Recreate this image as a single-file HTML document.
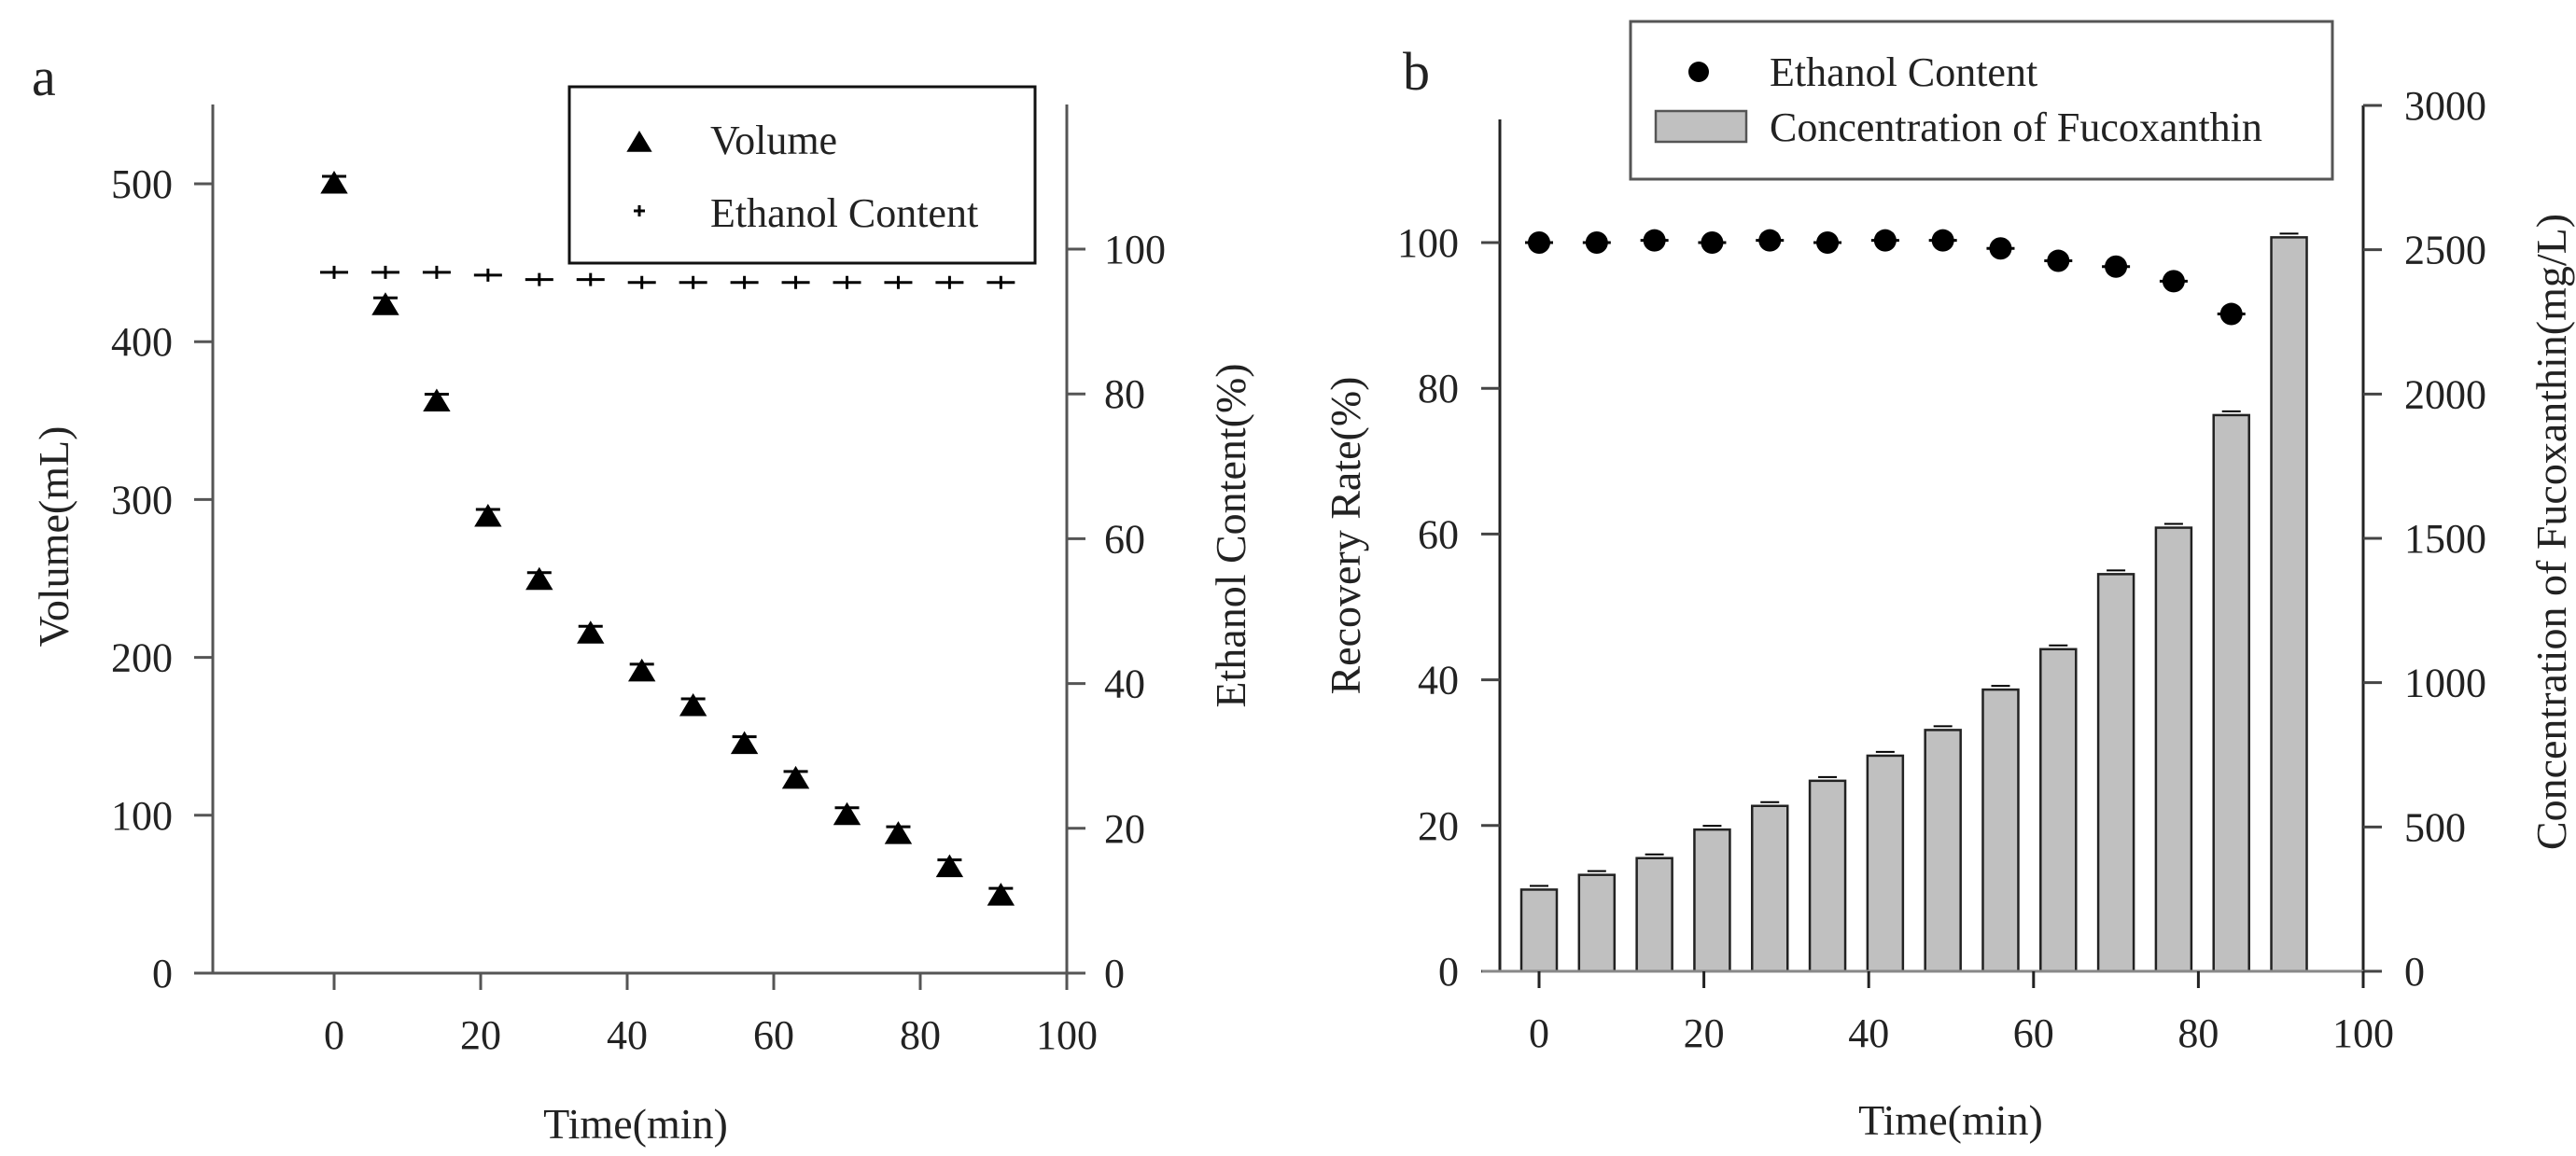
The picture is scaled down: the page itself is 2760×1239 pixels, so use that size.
<!DOCTYPE html>
<html><head><meta charset="utf-8"><style>
html,body{margin:0;padding:0;background:#fff;}
svg text{font-family:"Liberation Serif",serif;fill:#222;}
</style></head><body>
<svg id="fig" width="2760" height="1234" viewBox="0 0 2760 1234" xmlns="http://www.w3.org/2000/svg">
<g id="ga"></g>
<g id="gb"></g>
</svg>
<script>
const timesA = [0,7,14,21,28,35,42,49,56,63,70,77,84,91];
const volumeA = [500,423,362,289,249,215,191,169,145,123,100,88,67,49];
const ethanolA = [96.8,96.8,96.8,96.4,95.8,95.8,95.4,95.4,95.4,95.4,95.4,95.4,95.4,95.4];
const xTicks = [0,20,40,60,80,100];
const volTicks = [0,100,200,300,400,500];
const ethTicksA = [0,20,40,60,80,100];

const timesBars = [0,7,14,21,28,35,42,49,56,63,70,77,84,91];
const concB = [283,334,392,491,573,660,747,836,976,1116,1376,1537,1927,2543];
const timesDots = [0,7,14,21,28,35,42,49,56,63,70,77,84];
const recoveryB = [100,100,100.3,100,100.3,100,100.3,100.3,99.2,97.5,96.7,94.7,90.2];
const recTicks = [0,20,40,60,80,100];
const concTicks = [0,500,1000,1500,2000,2500,3000];

const NS='http://www.w3.org/2000/svg';
function mk(parent,tag,attrs,text){const e=document.createElementNS(NS,tag);for(const k in attrs)e.setAttribute(k,attrs[k]);if(text!==undefined)e.textContent=text;parent.appendChild(e);return e;}

// ---- Chart a ----
const ga=document.getElementById('ga');
const axA={x0:358,x1:1143,yb:1043};
const xA=t=>axA.x0+(t/100)*(axA.x1-axA.x0);
const yVol=v=>axA.yb-v*(1043-197)/500;
const yEthA=v=>axA.yb-v*(1043-267)/100;
let e;
e=mk(ga,'line',{x1:228,y1:112,x2:228,y2:1043,stroke:'#555','stroke-width':3});


e=mk(ga,'line',{x1:1143,y1:112,x2:1143,y2:1043,stroke:'#555','stroke-width':3});


e=mk(ga,'line',{x1:208,y1:1043,x2:1143,y2:1043,stroke:'#555','stroke-width':3});


volTicks.forEach(v=>{
  mk(ga,'line',{x1:208,y1:yVol(v),x2:228,y2:yVol(v),stroke:'#555','stroke-width':3});
  e=mk(ga,'text',{x:185,y:yVol(v)+15,'font-size':44,'text-anchor':'end'},String(v));
  
  
});
ethTicksA.forEach(v=>{
  mk(ga,'line',{x1:1143,y1:yEthA(v),x2:1163,y2:yEthA(v),stroke:'#555','stroke-width':3});
  e=mk(ga,'text',{x:1183,y:yEthA(v)+15,'font-size':44},String(v));
  
  
});
xTicks.forEach(v=>{
  mk(ga,'line',{x1:xA(v),y1:1043,x2:xA(v),y2:1061,stroke:'#555','stroke-width':3});
  e=mk(ga,'text',{x:xA(v),y:1124,'font-size':44,'text-anchor':'middle'},String(v));
  
  
});
e=mk(ga,'text',{x:681,y:1220,'font-size':46,'text-anchor':'middle'},'Time(min)');


e=mk(ga,'text',{x:0,y:0,'font-size':46,'text-anchor':'middle',transform:'translate(73,575) rotate(-90)'},'Volume(mL)');


e=mk(ga,'text',{x:0,y:0,'font-size':46,'text-anchor':'middle',transform:'translate(1334,574) rotate(-90)'},'Ethanol Content(%)');


e=mk(ga,'text',{x:34,y:102,'font-size':58},'a');


function tri(g,cx,cy,s){return mk(g,'polygon',{points:`${cx},${cy-s} ${cx-s*1.05},${cy+s*0.75} ${cx+s*1.05},${cy+s*0.75}`,fill:'#000'});}
timesA.forEach((t,i)=>{
  const cx=xA(t),cy=yVol(volumeA[i]);
  mk(ga,'line',{x1:cx-13,y1:cy-8,x2:cx+13,y2:cy-8,stroke:'#000','stroke-width':3});
  e=tri(ga,cx,cy,14);
  
  
});
timesA.forEach((t,i)=>{
  const cx=xA(t),cy=yEthA(ethanolA[i]);
  e=mk(ga,'path',{d:`M${cx-15},${cy}H${cx+15}M${cx},${cy-7}V${cy+7}`,stroke:'#000','stroke-width':3});
  
  
});
e=mk(ga,'rect',{x:610,y:93,width:499,height:189,fill:'#fff',stroke:'#111','stroke-width':3});


tri(ga,685,153,13);
e=mk(ga,'text',{x:761,y:165,'font-size':44},'Volume');


mk(ga,'path',{d:'M679,226H691M685,220V232',stroke:'#000','stroke-width':3});
e=mk(ga,'text',{x:761,y:243,'font-size':44},'Ethanol Content');



// ---- Chart b ----
const gb=document.getElementById('gb');
const axB={x0:1649,x1:2532,yb:1041};
const xB=t=>axB.x0+(t/100)*(axB.x1-axB.x0);
const yRec=v=>axB.yb-v*(1041-260)/100;
const yConc=v=>axB.yb-v*(1041-113)/3000;
e=mk(gb,'line',{x1:1607,y1:128,x2:1607,y2:1041,stroke:'#222','stroke-width':3});


e=mk(gb,'line',{x1:2532,y1:113,x2:2532,y2:1041,stroke:'#222','stroke-width':3});


recTicks.forEach(v=>{
  mk(gb,'line',{x1:1587,y1:yRec(v),x2:1607,y2:yRec(v),stroke:'#444','stroke-width':3});
  e=mk(gb,'text',{x:1563,y:yRec(v)+15,'font-size':44,'text-anchor':'end'},String(v));
  
  
});
concTicks.forEach(v=>{
  mk(gb,'line',{x1:2532,y1:yConc(v),x2:2552,y2:yConc(v),stroke:'#444','stroke-width':3});
  e=mk(gb,'text',{x:2576,y:yConc(v)+15,'font-size':44},String(v));
  
  
});
timesBars.forEach((t,i)=>{
  const cx=xB(t),top=yConc(concB[i]);
  mk(gb,'line',{x1:cx-10,y1:top-4,x2:cx+10,y2:top-4,stroke:'#000','stroke-width':2});
  e=mk(gb,'rect',{x:cx-19,y:top,width:38,height:axB.yb-top,fill:'#c0c0c0',stroke:'#222','stroke-width':2.5});
  
  
});
e=mk(gb,'line',{x1:1588,y1:1041,x2:2532,y2:1041,stroke:'#888','stroke-width':3});


xTicks.forEach(v=>{
  mk(gb,'line',{x1:xB(v),y1:1041,x2:xB(v),y2:1059,stroke:'#222','stroke-width':3});
  e=mk(gb,'text',{x:xB(v),y:1122,'font-size':44,'text-anchor':'middle'},String(v));
  
  
});
timesDots.forEach((t,i)=>{
  const cx=xB(t),cy=yRec(recoveryB[i]);
  mk(gb,'line',{x1:cx-15,y1:cy,x2:cx+15,y2:cy,stroke:'#000','stroke-width':3});
  e=mk(gb,'circle',{cx:cx,cy:cy,r:12,fill:'#000'});
  
  
});
e=mk(gb,'text',{x:2090,y:1216,'font-size':46,'text-anchor':'middle'},'Time(min)');


e=mk(gb,'text',{x:0,y:0,'font-size':46,'text-anchor':'middle',transform:'translate(1457,574) rotate(-90)'},'Recovery Rate(%)');


e=mk(gb,'text',{x:0,y:0,'font-size':46,'text-anchor':'middle',transform:'translate(2749,570) rotate(-90)'},'Concentration of Fucoxanthin(mg/L)');


e=mk(gb,'text',{x:1503,y:96,'font-size':58},'b');


e=mk(gb,'rect',{x:1747,y:23,width:752,height:169,fill:'#fff',stroke:'#555','stroke-width':3});


mk(gb,'circle',{cx:1820,cy:77,r:11,fill:'#000'});
e=mk(gb,'text',{x:1896,y:92,'font-size':44},'Ethanol Content');


mk(gb,'rect',{x:1774,y:119,width:97,height:33,fill:'#c0c0c0',stroke:'#555','stroke-width':2.5});
e=mk(gb,'text',{x:1896,y:151,'font-size':44},'Concentration of Fucoxanthin');


</script>
</body></html>
